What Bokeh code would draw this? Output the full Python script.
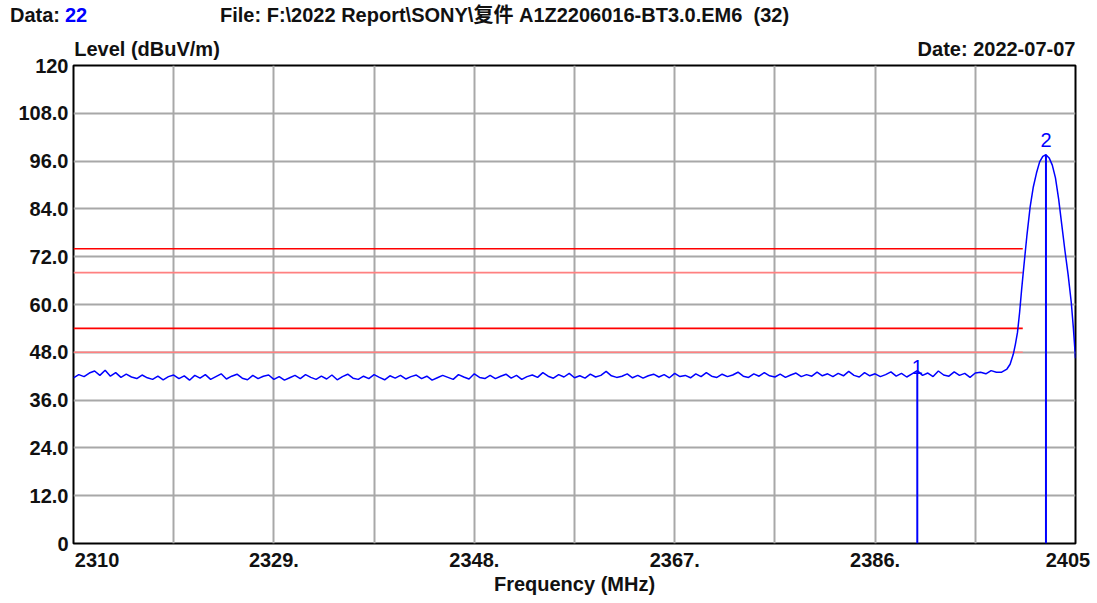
from bokeh.plotting import figure
from bokeh.layouts import column
from bokeh.models import Range1d, FixedTicker, Label, ColumnDataSource, LinearAxis, Div
from bokeh.embed import file_html
from bokeh.resources import INLINE

# ---------------- data ----------------
x_tick_values = [2310, 2329, 2348, 2367, 2386, 2405]
x_tick_text = ["2310", "2329.", "2348.", "2367.", "2386.", "2405"]
x_grid = [2310, 2319.5, 2329, 2338.5, 2348, 2357.5, 2367, 2376.5, 2386, 2395.5, 2405]
y_tick_values = [0, 12, 24, 36, 48, 60, 72, 84, 96, 108, 120]
y_tick_text = ["0", "12.0", "24.0", "36.0", "48.0", "60.0", "72.0", "84.0", "96.0", "108.0", "120"]

limit_levels = [74, 68, 54, 48]
limit_start = 2310
limit_stop = 2400

noise_freq = [
    2310.0, 2310.5, 2311.0, 2311.5, 2312.0, 2312.5, 2313.0, 2313.5, 2314.0, 2314.5, 2315.0, 2315.5, 2316.0, 2316.5, 2317.0, 2317.5,
    2318.0, 2318.5, 2319.0, 2319.5, 2320.0, 2320.5, 2321.0, 2321.5, 2322.0, 2322.5, 2323.0, 2323.5, 2324.0, 2324.5, 2325.0, 2325.5,
    2326.0, 2326.5, 2327.0, 2327.5, 2328.0, 2328.5, 2329.0, 2329.5, 2330.0, 2330.5, 2331.0, 2331.5, 2332.0, 2332.5, 2333.0, 2333.5,
    2334.0, 2334.5, 2335.0, 2335.5, 2336.0, 2336.5, 2337.0, 2337.5, 2338.0, 2338.5, 2339.0, 2339.5, 2340.0, 2340.5, 2341.0, 2341.5,
    2342.0, 2342.5, 2343.0, 2343.5, 2344.0, 2344.5, 2345.0, 2345.5, 2346.0, 2346.5, 2347.0, 2347.5, 2348.0, 2348.5, 2349.0, 2349.5,
    2350.0, 2350.5, 2351.0, 2351.5, 2352.0, 2352.5, 2353.0, 2353.5, 2354.0, 2354.5, 2355.0, 2355.5, 2356.0, 2356.5, 2357.0, 2357.5,
    2358.0, 2358.5, 2359.0, 2359.5, 2360.0, 2360.5, 2361.0, 2361.5, 2362.0, 2362.5, 2363.0, 2363.5, 2364.0, 2364.5, 2365.0, 2365.5,
    2366.0, 2366.5, 2367.0, 2367.5, 2368.0, 2368.5, 2369.0, 2369.5, 2370.0, 2370.5, 2371.0, 2371.5, 2372.0, 2372.5, 2373.0, 2373.5,
    2374.0, 2374.5, 2375.0, 2375.5, 2376.0, 2376.5, 2377.0, 2377.5, 2378.0, 2378.5, 2379.0, 2379.5, 2380.0, 2380.5, 2381.0, 2381.5,
    2382.0, 2382.5, 2383.0, 2383.5, 2384.0, 2384.5, 2385.0, 2385.5, 2386.0, 2386.5, 2387.0, 2387.5, 2388.0, 2388.5, 2389.0, 2389.5,
    2390.0, 2390.5, 2391.0, 2391.5, 2392.0, 2392.5, 2393.0, 2393.5, 2394.0, 2394.5, 2395.0, 2395.5, 2396.0, 2396.5, 2397.0, 2397.5,
]
noise_level = [
    41.6, 42.4, 41.9, 42.8, 43.3, 42.2, 43.5, 42.0, 42.9, 41.7, 42.5, 41.8, 41.4, 42.3, 41.6, 41.2,
    42.0, 41.1, 41.9, 42.3, 41.4, 42.1, 41.0, 42.2, 41.5, 42.4, 41.2, 41.9, 42.6, 41.3, 42.0, 42.5,
    41.5, 41.1, 42.2, 41.4, 42.0, 42.3, 41.2, 41.9, 41.0, 41.6, 42.2, 41.4, 42.4, 41.7, 41.2, 42.0,
    41.3, 42.3, 41.1, 41.9, 42.5, 41.5, 41.2, 42.0, 41.4, 42.4, 41.7, 41.1, 42.1, 41.5, 42.2, 41.3,
    41.9, 42.3, 41.4, 42.0, 41.0, 41.6, 42.2, 41.7, 41.2, 42.4, 41.8, 41.3, 42.6, 41.7, 41.4, 42.2,
    41.4, 42.0, 42.5, 41.5, 42.2, 41.2, 41.9, 42.3, 41.7, 42.9, 42.0, 41.5, 42.4, 41.8, 42.7, 41.6,
    42.1, 41.5, 42.5, 41.8, 42.2, 43.2, 42.1, 41.7, 42.0, 42.6, 41.6, 42.2, 41.5, 42.1, 42.5, 41.8,
    42.4, 41.6, 42.7, 41.9, 42.2, 41.6, 42.6, 41.9, 42.9, 42.0, 41.7, 42.5, 41.9, 42.3, 43.0, 42.0,
    41.7, 42.6, 42.0, 42.9, 42.1, 41.8, 42.5, 41.7, 42.3, 42.8, 41.9, 42.4, 42.0, 43.0, 42.1, 42.6,
    41.9, 42.7, 42.1, 43.2, 42.2, 41.8, 42.9, 42.1, 42.6, 41.9, 42.4, 43.1, 42.0, 42.7, 41.8, 42.6,
    43.4, 42.2, 42.8, 41.9, 43.3, 42.3, 42.0, 43.1, 42.2, 42.7, 41.7, 42.8, 43.0, 42.6, 43.4, 43.0,
]
peak_freq = [2398.0, 2398.5, 2398.8, 2399.1, 2399.3, 2399.5, 2399.7, 2399.9, 2400.1, 2400.4,
             2400.7, 2401.0, 2401.3, 2401.6, 2401.9, 2402.2, 2402.5, 2402.8, 2403.1, 2403.4,
             2403.7, 2404.0, 2404.3, 2404.6, 2404.8, 2405.0]
peak_level = [43.0, 43.8, 45.0, 47.5, 50.0, 53.0, 58.0, 64.0, 69.5, 77.5,
              84.5, 89.5, 93.0, 95.8, 97.2, 97.6, 96.8, 95.0, 91.8, 86.5,
              80.0, 73.5, 67.5, 60.5, 54.0, 46.5]

marker_ids = ["1", "2"]
marker_freq = [2390.0, 2402.2]
marker_level = [43.0, 97.6]

data_label = "Data:"
data_no = "22"
file_text = "File: F:\\2022 Report\\SONY\\复件 A1Z2206016-BT3.0.EM6&nbsp;&nbsp;(32)"
date_text = "Date: 2022-07-07"
y_title = "Level (dBuV/m)"
x_title = "Frequency (MHz)"

# ---------------- layout / styles ----------------
W = 1091
HEAD_H = 28
FRAME_W = 1002
FRAME_H = 478
B_LEFT, B_RIGHT, B_TOP, B_BOTTOM = 73, 16, 37, 56
FONT = "Liberation Sans, Arial, 'Noto Sans CJK SC', sans-serif"
FS = "20px"
TXT = "#111111"
BLUE = "#0000ff"
GRID = "#a8a8a8"
limit_colors = ["#ff0000", "#ff8080", "#ff0000", "#ff8080"]
px_per_mhz = FRAME_W / (x_tick_values[-1] - x_tick_values[0])
# pixel nudges for the end tick labels (kept inside the frame like the original)
x_label_nudge = [23.5, 0, 0, 0, 0, -7.5]
# header row pixel positions
head_left = {"data": 10, "no": 65, "file": 220}
head_top = 4

# ---------------- header strip (HTML text) ----------------
span = '<span style="position:absolute;left:{}px;top:{}px;color:{};white-space:pre;">{}</span>'
head_html = (
    f'<div style="position:relative;width:{W}px;height:{HEAD_H}px;font-family:{FONT};'
    f'font-size:{FS};font-weight:bold;line-height:22px;">'
    + span.format(head_left["data"], head_top, TXT, data_label)
    + span.format(head_left["no"], head_top, BLUE, data_no)
    + span.format(head_left["file"], head_top, TXT, file_text)
    + "</div>"
)
h = Div(text=head_html, width=W, height=HEAD_H, margin=0)

# ---------------- main plot ----------------
p = figure(width=W, height=B_TOP + FRAME_H + B_BOTTOM,
           x_range=Range1d(x_tick_values[0], x_tick_values[-1]),
           y_range=Range1d(y_tick_values[0], y_tick_values[-1]),
           output_backend="svg", toolbar_location=None,
           min_border_left=B_LEFT, min_border_right=B_RIGHT,
           min_border_top=B_TOP, min_border_bottom=B_BOTTOM)
p.background_fill_color = "white"
p.border_fill_color = "white"
p.outline_line_color = "black"
p.outline_line_width = 2

x_tick_pos = [round(v + n / px_per_mhz, 2) for v, n in zip(x_tick_values, x_label_nudge)]
p.xaxis.ticker = FixedTicker(ticks=x_tick_pos)
p.xaxis.major_label_overrides = {(int(t) if t == int(t) else t): s for t, s in zip(x_tick_pos, x_tick_text)}
p.yaxis.ticker = FixedTicker(ticks=y_tick_values)
p.yaxis.major_label_overrides = dict(zip(y_tick_values, y_tick_text))

# top axis carrying the y-title and the date, like the original header line
x0 = x_tick_values[0]
level_pos = round(x0 + 73.5 / px_per_mhz, 2)
date_pos = round(x0 + 923.0 / px_per_mhz, 2)
top_ax = LinearAxis(ticker=FixedTicker(ticks=[level_pos, date_pos]),
                    major_label_overrides={level_pos: y_title, date_pos: date_text})
p.add_layout(top_ax, "above")

for ax in (p.xaxis + p.yaxis):
    ax.axis_line_color = None
    ax.major_tick_line_color = None
    ax.minor_tick_line_color = None
    ax.major_tick_out = 0
    ax.major_tick_in = 0
    ax.major_label_text_font = FONT
    ax.major_label_text_font_size = FS
    ax.major_label_text_font_style = "bold"
    ax.major_label_text_color = TXT
top_ax.major_label_standoff = 6
for ax in p.xaxis:
    if ax is not top_ax:
        ax.major_label_standoff = 9
        ax.axis_label = x_title
        ax.axis_label_text_font = FONT
        ax.axis_label_text_font_size = FS
        ax.axis_label_text_font_style = "bold"
        ax.axis_label_text_color = TXT
        ax.axis_label_standoff = 3
p.yaxis.major_label_standoff = 5

# grid
p.xgrid.ticker = FixedTicker(ticks=x_grid)
p.ygrid.ticker = FixedTicker(ticks=y_tick_values)
for g in (p.xgrid + p.ygrid):
    g.grid_line_color = GRID
    g.grid_line_width = 2

# limit lines
lim_src = ColumnDataSource(dict(x0=[limit_start] * len(limit_levels),
                                x1=[limit_stop] * len(limit_levels),
                                y=limit_levels, c=limit_colors))
p.segment(x0="x0", y0="y", x1="x1", y1="y", color="c", line_width=1.6, source=lim_src)

# trace
trace_src = ColumnDataSource(dict(f=noise_freq + peak_freq, lv=noise_level + peak_level))
p.line("f", "lv", source=trace_src, color=BLUE, line_width=1.5)

# markers
mk_src = ColumnDataSource(dict(f=marker_freq, lv=marker_level, z=[0] * len(marker_freq)))
p.segment(x0="f", y0="z", x1="f", y1="lv", source=mk_src, color=BLUE, line_width=2)
marker_offsets = [5, 15]
for mid, mf, ml, off in zip(marker_ids, marker_freq, marker_level, marker_offsets):
    p.add_layout(Label(x=mf, y=ml, text=mid, text_align="center", text_baseline="alphabetic",
                       y_offset=off, text_font=FONT, text_font_size="20px", text_color=BLUE))

open("out.html", "w").write(file_html(column(h, p, spacing=0), INLINE))
